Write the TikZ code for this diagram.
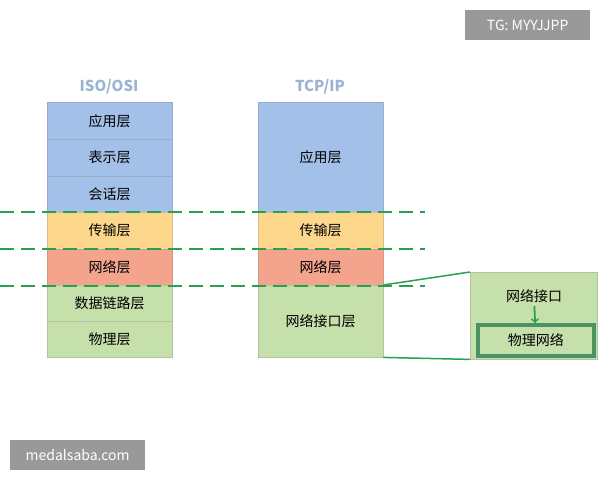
\documentclass[tikz,border=0pt]{standalone}
\usepackage{fontspec}
\setmainfont{Noto Sans CJK SC}
\usetikzlibrary{positioning}
\definecolor{layblue}{RGB}{163,193,232}
\definecolor{layorange}{RGB}{252,215,140}
\definecolor{layred}{RGB}{244,163,140}
\definecolor{laygreen}{RGB}{198,224,172}
\definecolor{linegreen}{RGB}{40,160,80}
\begin{document}
\begin{tikzpicture}[
    x=1pt, y=-1pt,
    lay/.style={draw=#1!70!gray, fill=#1, minimum width=125pt, anchor=north west, inner sep=0pt, font=\fontsize{14}{16}\selectfont},
    sep/.style={dash pattern=on 14pt off 7pt, line width=1.8pt, draw=linegreen},
    wmark/.style={fill=gray!80, text=white, inner sep=0pt, anchor=north west, font=\fontsize{14}{16}\selectfont},
    title/.style={text=layblue!80!gray, font=\fontsize{15}{17}\selectfont\bfseries}
]
    \useasboundingbox (0,0) rectangle (600,480);
    % ISO/OSI column
    \node[title] (osi) at (109,87) {ISO/OSI};
    \node[lay=layblue, minimum height=37pt] (app) at (47,102) {应用层};
    \node[lay=layblue, minimum height=37pt] (pres) at (47,139) {表示层};
    \node[lay=layblue, minimum height=36pt] (sess) at (47,176) {会话层};
    \node[lay=layorange, minimum height=37pt] (trans) at (47,212) {传输层};
    \node[lay=layred, minimum height=36pt] (net) at (47,249) {网络层};
    \node[lay=laygreen, minimum height=36pt] (link) at (47,285) {数据链路层};
    \node[lay=laygreen, minimum height=36pt] (phys) at (47,321) {物理层};
    % TCP/IP column
    \node[title] (tcp) at (320,87) {TCP/IP};
    \node[lay=layblue, minimum height=110pt] (tapp) at (258,102) {应用层};
    \node[lay=layorange, minimum height=37pt] (ttrans) at (258,212) {传输层};
    \node[lay=layred, minimum height=36pt] (tnet) at (258,249) {网络层};
    \node[lay=laygreen, minimum height=72pt] (tif) at (258,285) {网络接口层};
    % dashed separators
    \draw[sep] (0,212) -- (425,212);
    \draw[sep] (0,249) -- (425,249);
    \draw[sep] (0,286) -- (425,286);
    % zoomed interface box
    \node[draw=laygreen!70!gray, fill=laygreen, minimum width=127pt, minimum height=87pt, anchor=north west, inner sep=0pt] (zoom) at (470,272) {};
    \node[font=\fontsize{14}{16}\selectfont] (nif) at (534,296) {网络接口};
    \node[draw=linegreen!60!gray, line width=3.5pt, fill=laygreen, minimum width=116pt, minimum height=31pt, anchor=north west, inner sep=0pt, font=\fontsize{14}{16}\selectfont] (pnet) at (476,323) {物理网络};
    \draw[->, line width=1.8pt, draw=linegreen] (nif) -- (pnet);
    \draw[line width=1.5pt, draw=linegreen] (tif.north east) -- (zoom.north west);
    \draw[line width=1.5pt, draw=linegreen] (tif.south east) -- (zoom.south west);
    % watermarks
    \node[wmark, minimum width=125pt, minimum height=30pt] (tg) at (465,10) {TG: MYYJJPP};
    \node[wmark, minimum width=135pt, minimum height=30pt] (site) at (10,440) {medalsaba.com};
\end{tikzpicture}
\end{document}
